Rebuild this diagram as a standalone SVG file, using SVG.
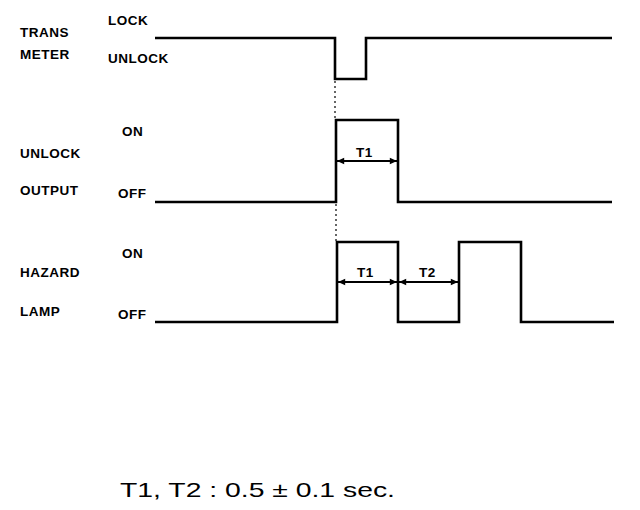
<svg xmlns="http://www.w3.org/2000/svg" width="640" height="510" viewBox="0 0 640 510">
<style>
.lbl{font-family:"Liberation Sans",Arial,sans-serif;font-weight:bold;font-size:13.5px;letter-spacing:0.5px;fill:#000}
.sig{fill:none;stroke:#000;stroke-width:2.6}
.dot{fill:none;stroke:#000;stroke-width:1.2;stroke-dasharray:2 3}
.dim{fill:none;stroke:#000;stroke-width:1.8;marker-start:url(#ah);marker-end:url(#ah)}
.big{font-family:"Liberation Sans",Arial,sans-serif;font-size:21px;fill:#000}
</style>
<defs>
<marker id="ah" viewBox="0 0 10 10" refX="10" refY="5" markerWidth="4.5" markerHeight="4" orient="auto-start-reverse" markerUnits="strokeWidth">
<path d="M0,0.5 L10,5 L0,9.5 Z" fill="#000"/>
</marker>
</defs>
<rect width="640" height="510" fill="#fff"/>
<g id="trans-meter">
<text class="lbl" x="20" y="37">TRANS</text>
<text class="lbl" x="20" y="59">METER</text>
<text class="lbl" x="108" y="25">LOCK</text>
<text class="lbl" x="108" y="63">UNLOCK</text>
</g>
<g id="unlock-output">
<text class="lbl" x="20" y="158">UNLOCK</text>
<text class="lbl" x="20" y="195">OUTPUT</text>
<text class="lbl" x="122" y="136">ON</text>
<text class="lbl" x="118" y="198">OFF</text>
<text class="lbl" x="356" y="157">T1</text>
</g>
<g id="hazard-lamp">
<text class="lbl" x="20" y="277">HAZARD</text>
<text class="lbl" x="20" y="316">LAMP</text>
<text class="lbl" x="122" y="258">ON</text>
<text class="lbl" x="118" y="319">OFF</text>
<text class="lbl" x="357" y="277">T1</text>
<text class="lbl" x="419" y="277">T2</text>
</g>
<g id="connectors">
<polyline class="sig" points="155,38 335,38 335,79 366,79 366,38 612,38"/>
<polyline class="sig" points="155,202 336,202 336,120 398,120 398,202 612,202"/>
<polyline class="sig" points="155,322 337,322 337,242 398,242 398,322 459,322 459,242 521,242 521,322 614,322"/>
<line class="dot" x1="335" y1="81" x2="335" y2="119"/>
<line class="dot" x1="336" y1="204" x2="336" y2="241"/>
<line class="dim" x1="337" y1="161" x2="397" y2="161"/>
<line class="dim" x1="338" y1="282" x2="397" y2="282"/>
<line class="dim" x1="399" y1="282" x2="458" y2="282"/>
</g>
<text class="big" x="120" y="497" textLength="275" lengthAdjust="spacingAndGlyphs">T1, T2 : 0.5 ± 0.1 sec.</text>
</svg>
